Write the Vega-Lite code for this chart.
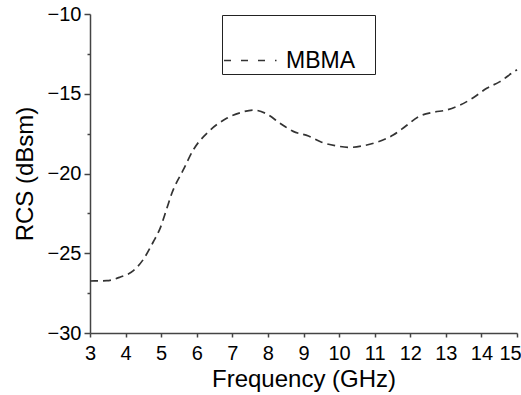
{
  "$schema": "https://vega.github.io/schema/vega-lite/v6.json",
  "width": 427,
  "height": 319,
  "autosize": {"type": "none"},
  "padding": {"left": 90, "top": 14, "right": 4, "bottom": 62},
  "background": "white",
  "config": {
    "view": {"stroke": null},
    "font": "Liberation Sans",
    "axis": {
      "labelFont": "Liberation Sans",
      "titleFont": "Liberation Sans",
      "labelColor": "black",
      "titleColor": "black",
      "labelFontSize": 20,
      "titleFontSize": 24,
      "titleFontWeight": "normal",
      "domainColor": "#444",
      "domainWidth": 1.5,
      "tickColor": "#444",
      "tickWidth": 1.5,
      "grid": false,
      "labelOverlap": false
    }
  },
  "data": {
    "values": [
      {"f": 3.0, "rcs": -26.74, "series": "MBMA"},
      {"f": 3.47, "rcs": -26.72, "series": "MBMA"},
      {"f": 3.84, "rcs": -26.5, "series": "MBMA"},
      {"f": 4.22, "rcs": -26.09, "series": "MBMA"},
      {"f": 4.5, "rcs": -25.38, "series": "MBMA"},
      {"f": 4.78, "rcs": -24.28, "series": "MBMA"},
      {"f": 4.97, "rcs": -23.44, "series": "MBMA"},
      {"f": 5.16, "rcs": -22.18, "series": "MBMA"},
      {"f": 5.3, "rcs": -21.24, "series": "MBMA"},
      {"f": 5.62, "rcs": -19.78, "series": "MBMA"},
      {"f": 5.9, "rcs": -18.53, "series": "MBMA"},
      {"f": 6.33, "rcs": -17.38, "series": "MBMA"},
      {"f": 6.84, "rcs": -16.54, "series": "MBMA"},
      {"f": 7.22, "rcs": -16.19, "series": "MBMA"},
      {"f": 7.59, "rcs": -16.02, "series": "MBMA"},
      {"f": 7.97, "rcs": -16.27, "series": "MBMA"},
      {"f": 8.34, "rcs": -16.85, "series": "MBMA"},
      {"f": 8.71, "rcs": -17.36, "series": "MBMA"},
      {"f": 9.14, "rcs": -17.65, "series": "MBMA"},
      {"f": 9.51, "rcs": -18.04, "series": "MBMA"},
      {"f": 9.93, "rcs": -18.27, "series": "MBMA"},
      {"f": 10.31, "rcs": -18.36, "series": "MBMA"},
      {"f": 10.68, "rcs": -18.26, "series": "MBMA"},
      {"f": 11.06, "rcs": -18.04, "series": "MBMA"},
      {"f": 11.52, "rcs": -17.59, "series": "MBMA"},
      {"f": 11.85, "rcs": -17.07, "series": "MBMA"},
      {"f": 12.23, "rcs": -16.44, "series": "MBMA"},
      {"f": 12.65, "rcs": -16.16, "series": "MBMA"},
      {"f": 13.02, "rcs": -16.02, "series": "MBMA"},
      {"f": 13.4, "rcs": -15.71, "series": "MBMA"},
      {"f": 13.77, "rcs": -15.25, "series": "MBMA"},
      {"f": 14.15, "rcs": -14.66, "series": "MBMA"},
      {"f": 14.52, "rcs": -14.24, "series": "MBMA"},
      {"f": 14.94, "rcs": -13.58, "series": "MBMA"},
      {"f": 15.0, "rcs": -13.5, "series": "MBMA"}
    ]
  },
  "mark": {"type": "line", "interpolate": "monotone", "strokeDash": [8, 5], "strokeWidth": 1.7},
  "encoding": {
    "x": {
      "field": "f",
      "type": "quantitative",
      "scale": {"domain": [3, 15], "nice": false, "zero": false},
      "axis": {
        "title": "Frequency (GHz)",
        "values": [3, 3.5, 4, 4.5, 5, 5.5, 6, 6.5, 7, 7.5, 8, 8.5, 9, 9.5, 10, 10.5, 11, 11.5, 12, 12.5, 13, 13.5, 14, 14.5, 15],
        "format": "d",
        "labelExpr": "datum.value % 1 === 0 ? datum.label : ''",
        "tickSize": {"condition": {"test": "datum.value % 1 !== 0", "value": 3}, "value": 4},
        "labelOffset": {"condition": {"test": "datum.value === 15", "value": -7}, "value": 0},
        "labelFlush": false,
        "labelPadding": 6,
        "titlePadding": 4
      }
    },
    "y": {
      "field": "rcs",
      "type": "quantitative",
      "scale": {"domain": [-30, -10], "nice": false, "zero": false},
      "axis": {
        "title": "RCS (dBsm)",
        "values": [-30, -27.5, -25, -22.5, -20, -17.5, -15, -12.5, -10],
        "format": "d",
        "labelExpr": "datum.value % 5 === 0 ? datum.label : ''",
        "tickSize": {"condition": {"test": "datum.value % 5 !== 0", "value": 3}, "value": 6},
        "labelPadding": 3,
        "titlePadding": 10
      }
    },
    "color": {
      "field": "series",
      "type": "nominal",
      "scale": {"range": ["#333333"]},
      "legend": {
        "orient": "none",
        "legendX": 132,
        "legendY": 1,
        "title": "\u00a0",
        "titleFontSize": 20,
        "titlePadding": 13,
        "padding": 1,
        "strokeColor": "#222",
        "fillColor": "white",
        "labelFont": "Liberation Sans",
        "labelFontSize": 23,
        "labelColor": "black",
        "labelOffset": 40,
        "symbolType": "M-1.5,0H6M19.5,0",
        "symbolSize": 196,
        "symbolStrokeWidth": 1.5,
        "symbolStrokeColor": "#333",
        "symbolDash": [7, 10],
        "encode": {"symbols": {"update": {"strokeDash": {"value": [7, 10]}}}}
      }
    }
  }
}
